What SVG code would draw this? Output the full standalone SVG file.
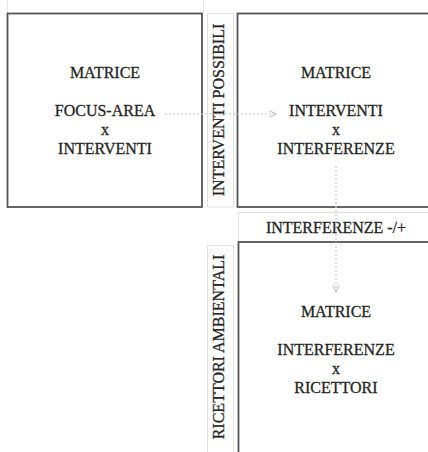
<svg xmlns="http://www.w3.org/2000/svg" width="428" height="452" viewBox="0 0 428 452">
  <defs>
    <style>
      .box { fill: #ffffff; stroke: #555555; stroke-width: 1.8; }
      .cell { fill: #ffffff; stroke: #e2e2e2; stroke-width: 1; }
      .grid { stroke: #e6e6e6; stroke-width: 1; fill: none; }
      .t { font-family: "Liberation Serif", "Times New Roman", serif; font-size: 16px; fill: #222222; stroke: #2a2a2a; stroke-width: 0.3; text-anchor: middle; }
      .conn { stroke: #c9c9c9; stroke-width: 1.2; stroke-dasharray: 2 2; fill: none; }
    </style>
    <marker id="chev" viewBox="0 0 10 10" refX="9" refY="5" markerWidth="8" markerHeight="8" markerUnits="userSpaceOnUse" orient="auto">
      <path d="M1,1 L9,5 L1,9" fill="none" stroke="#c4c4c4" stroke-width="1.4"/>
    </marker>
  </defs>
  <rect width="428" height="452" fill="#ffffff"/>

  <g id="grid">
    <line class="grid" x1="7.5" y1="0" x2="7.5" y2="13"/>
    <line class="grid" x1="203.5" y1="0" x2="203.5" y2="13"/>
  </g>

  <g id="label-interventi-possibili">
    <rect class="cell" x="207.5" y="13.5" width="26" height="193.5"/>
    <text class="t" transform="translate(224,110) rotate(-90)">INTERVENTI POSSIBILI</text>
  </g>

  <g id="label-interferenze">
    <rect class="cell" x="238.5" y="212.5" width="200" height="29"/>
    <text class="t" x="336" y="233">INTERFERENZE -/+</text>
  </g>

  <g id="label-ricettori-ambientali">
    <rect class="cell" x="207.5" y="245.5" width="26" height="220"/>
    <text class="t" transform="translate(224,347) rotate(-90)">RICETTORI AMBIENTALI</text>
  </g>

  <g id="node-focus-area">
    <rect class="box" x="7.5" y="13.5" width="194.5" height="193.5"/>
    <text class="t" x="105" y="78">MATRICE</text>
    <text class="t" x="105" y="116">FOCUS-AREA</text>
    <text class="t" x="105" y="135">x</text>
    <text class="t" x="105" y="154">INTERVENTI</text>
  </g>

  <g id="node-interventi">
    <rect class="box" x="237.5" y="13.5" width="200" height="193.5"/>
    <text class="t" x="336" y="78">MATRICE</text>
    <text class="t" x="336" y="116">INTERVENTI</text>
    <text class="t" x="336" y="135">x</text>
    <text class="t" x="336" y="154">INTERFERENZE</text>
  </g>

  <g id="node-interferenze">
    <rect class="box" x="238.5" y="242" width="200" height="220"/>
    <text class="t" x="336" y="317">MATRICE</text>
    <text class="t" x="336" y="355">INTERFERENZE</text>
    <text class="t" x="336" y="374">x</text>
    <text class="t" x="336" y="393">RICETTORI</text>
  </g>

  <g id="connectors">
    <line class="conn" x1="165" y1="114" x2="276" y2="114" marker-end="url(#chev)"/>
    <line class="conn" x1="336" y1="166" x2="336" y2="292" marker-end="url(#chev)"/>
  </g>
</svg>
